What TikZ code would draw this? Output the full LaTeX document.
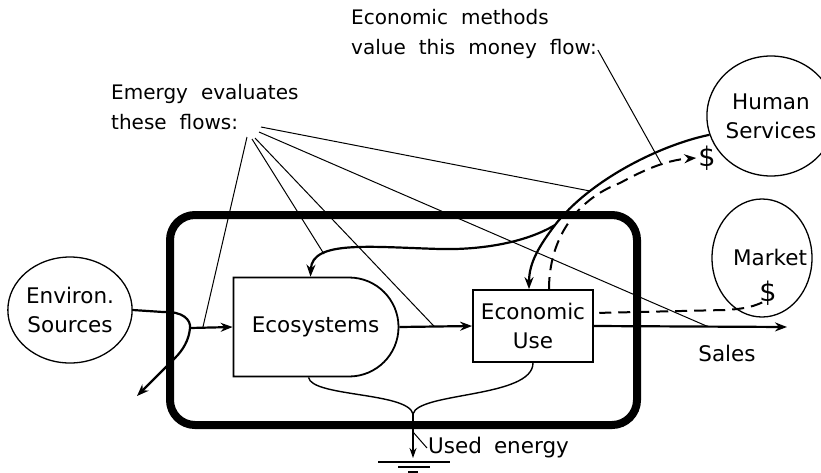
\documentclass[tikz,border=0pt]{standalone}
\usepackage{fontspec}
\setmainfont{DejaVu Sans}
\usetikzlibrary{arrows.meta,calc,shapes.geometric,shapes.misc}
\tikzset {>={Stealth[length=12pt,width=9pt]}}
\newcommand\diagfont{\fontsize{21.5}{29}\selectfont\spaceskip 12pt\relax}
\newcommand\notefont{\fontsize{20}{29.5}\selectfont\spaceskip 13pt\relax}
\newcommand\cashfont{\fontsize{27}{29}\selectfont}

\begin{document}
\begin{tikzpicture}[x=1pt,y=-1pt,
  every node/.style={font=\diagfont,inner sep=1pt},
  note/.style={anchor=west,align=left,font=\notefont},
  cash/.style={font=\cashfont,inner sep=0pt},
  flow/.style={line width=2.2pt},
  money/.style={line width=2pt,dash pattern=on 12pt off 7pt},
  lead/.style={line width=1pt},
  used/.style={line width=1.4pt},
  source/.style={ellipse,draw,line width=1.3pt,inner sep=0pt,align=center}]
\useasboundingbox (0,0) rectangle (821,472);
\node[draw,line width=8pt,rounded corners=25pt,minimum width=467pt,minimum height=210pt] (sys) at (403.5,320) {};
\node[source,minimum width=114pt,minimum height=106pt] (env) at (70,310) {Environ.\\Sources};
\node[draw,line width=1.8pt,rounded rectangle,rounded rectangle left arc=none,minimum width=167pt,minimum height=99pt] (eco) at (315.5,327) {Ecosystems};
\node[draw,line width=1.8pt,minimum width=120pt,minimum height=72pt,align=center] (econ) at (533,326) {Economic\\Use};
\node[source,minimum width=108pt,minimum height=120pt] (hs) at (771,116) {Human\\Services};
\node[source,minimum width=100pt,minimum height=118pt] (mk) at (762,258) {};
\node (mkt) at (770,257) {Market};
\node[cash] (mkd) at (768,293) {\$};
\node[cash] (hsd) at (707,158) {\$};
\node (sales) at (727,353) {Sales};
\node[anchor=west] (ue) at (427,448) {Used energy};
\node[note] (em) at (110,107) {Emergy evaluates\\these flows:};
\node[note] (ecm) at (350,34) {Economic methods\\value this money flow:};
\coordinate (split) at (190,328);
\coordinate (out) at (137,396);
\coordinate (jct) at (555,225);
\coordinate (salesend) at (787,327);
\coordinate (sink) at (413,414);
\coordinate (gnd) at (413,462);
\coordinate (ef) at (255,132);
\coordinate (fb) at (324,254);
\coordinate (hsf) at (590,191);
\coordinate (mf) at (662,165);
\draw[flow,->] (env.east) -- (163,312) .. controls (183,311) and (191,320) .. (split) .. controls (189,340) and (183,350) .. (175,358) -- (out);
\draw[flow,->] (split) -- (eco.west);
\draw[flow,->] (eco.east) -- (econ.west);
\draw[flow,->] (econ.east) -- (salesend);
\draw[flow,->] (hs.197) .. controls (660,145) and (590,180) .. (jct) .. controls (540,245) and (529,262) .. ([xshift=-4pt]econ.north);
\draw[flow,->] (jct) .. controls (525,243) and (480,250) .. (440,249) .. controls (370,247) and (312,240) .. ([xshift=-5pt]eco.north);
\draw[money,->] ([xshift=16pt]econ.north) .. controls (549,240) and (575,200) .. (620,183) .. controls (640,172) and (665,160) .. ([xshift=-2pt]hsd.west);
\draw[money] ([shift={(3,-3)}]mkd.south west) .. controls (750,308) and (740,309) .. (725,310) -- ([yshift=13pt]econ.east);
\draw[used] ([xshift=-7pt]eco.south) .. controls (312,397) and (408,392) .. (sink);
\draw[used] (econ.south) .. controls (533,398) and (418,392) .. (sink);
\draw[used,->,>={Stealth[length=10pt,width=7pt]}] (sink) -- ([yshift=4pt]gnd);
\draw[used] ([xshift=-35pt]gnd) -- ([xshift=37pt]gnd);
\draw[used] ([shift={(-15,5)}]gnd) -- ([shift={(17,5)}]gnd);
\draw[used] ([shift={(-5,10)}]gnd) -- ([shift={(5,10)}]gnd);
\draw[lead] ([yshift=-18pt]sink) -- (ue.west);
\draw[lead] ([shift={(-8,5)}]ef) -- ($(split)!.3!(eco.west)$);
\draw[lead] ([shift={(-3,7)}]ef) -- (fb);
\draw[lead] ([shift={(0,6)}]ef) -- ($(eco.east)!.48!(econ.west)$);
\draw[lead] ([shift={(4,0)}]ef) -- ($(econ.east)!.59!(salesend)$);
\draw[lead] ([shift={(6,-5)}]ef) -- (hsf);
\draw[lead] ([yshift=-16pt]ecm.east) -- (mf);
\end{tikzpicture}
\end{document}
